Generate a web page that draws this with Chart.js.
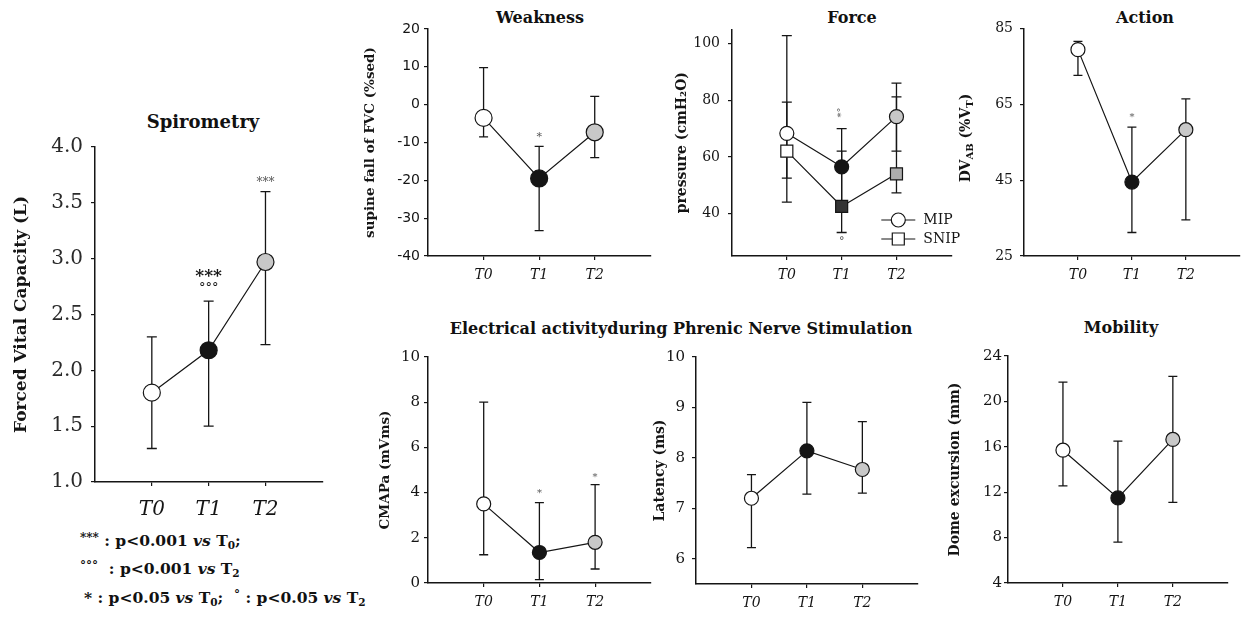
<!DOCTYPE html>
<html><head><meta charset="utf-8">
<script src="https://cdn.jsdelivr.net/npm/chart.js@4.4.1/dist/chart.umd.min.js"></script>
<style>
html,body{margin:0;padding:0;background:#fff;}
#fig{position:relative;width:1248px;height:618px;overflow:hidden;background:#fff;font-family:"DejaVu Serif",serif;color:#111;}
#fig canvas{position:absolute;}
.ttl{position:absolute;font-weight:bold;white-space:nowrap;transform:translate(-50%,-50%);line-height:1;}
.note{position:absolute;white-space:nowrap;font-weight:bold;font-size:15.5px;transform:translateY(-50%);line-height:1;}
.note i{font-weight:bold;}
.note sub{font-size:68%;vertical-align:-3px;line-height:0;}
.sm{font-size:12px;vertical-align:4px;}
</style></head>
<body><div id="fig">
<div class="ttl" style="left:203px;top:122px;font-size:18px">Spirometry</div>
<div class="ttl" style="left:540px;top:18px;font-size:16px">Weakness</div>
<div class="ttl" style="left:852px;top:18px;font-size:16px">Force</div>
<div class="ttl" style="left:1145px;top:18px;font-size:16px">Action</div>
<div class="ttl" style="left:681px;top:329px;font-size:16px">Electrical activityduring Phrenic Nerve Stimulation</div>
<div class="ttl" style="left:1121px;top:328px;font-size:16px">Mobility</div>
<div class="note" style="left:80px;top:540px"><span class="sm">***</span> : p&lt;0.001 <i>vs</i> T<sub>0</sub>;</div>
<div class="note" style="left:80px;top:568px"><span class="sm">°°°</span>&nbsp; : p&lt;0.001 <i>vs</i> T<sub>2</sub></div>
<div class="note" style="left:84px;top:597px">* : p&lt;0.05 <i>vs</i> T<sub>0</sub>;&nbsp; <span class="sm">°</span> : p&lt;0.05 <i>vs</i> T<sub>2</sub></div>
</div>
<script>
// ---------- data ----------
const timepoints = ['T0', 'T1', 'T2'];

// Spirometry – Forced Vital Capacity (L)
const fvcMean = [1.80, 2.18, 2.97];
const fvcLow  = [1.30, 1.50, 2.23];
const fvcHigh = [2.30, 2.62, 3.60];
const fvcTicks = [1.0, 1.5, 2.0, 2.5, 3.0, 3.5, 4.0];

// Weakness – supine fall of FVC (%sed)
const fallMean = [-3.5, -19.5, -7.3];
const fallLow  = [-8.5, -33.3, -14.0];
const fallHigh = [9.8, -11.0, 2.2];
const fallTicks = [-40, -30, -20, -10, 0, 10, 20];

// Force – pressure (cmH2O)
const mipMean  = [68.3, 56.5, 74.2];
const mipLow   = [52.5, 43.5, 62.0];
const mipHigh  = [102.8, 70.0, 86.0];
const snipMean = [62.0, 42.5, 54.0];
const snipLow  = [44.0, 33.3, 47.3];
const snipHigh = [79.3, 62.0, 81.2];
const pressureTicks = [40, 60, 80, 100];

// Action – DVAB (%VT)
const dvabMean = [79.4, 44.5, 58.3];
const dvabLow  = [72.6, 31.2, 34.5];
const dvabHigh = [81.6, 59.0, 66.4];
const dvabTicks = [25, 45, 65, 85];

// Electrical activity – CMAPa (mVms)
const cmapMean = [3.5, 1.35, 1.8];
const cmapLow  = [1.25, 0.15, 0.62];
const cmapHigh = [8.0, 3.56, 4.35];
const cmapTicks = [0, 2, 4, 6, 8, 10];

// Electrical activity – Latency (ms)
const latMean = [7.2, 8.14, 7.77];
const latLow  = [6.22, 7.28, 7.30];
const latHigh = [7.67, 9.10, 8.72];
const latTicks = [6, 7, 8, 9, 10];

// Mobility – Dome excursion (mm)
const domeMean = [15.7, 11.5, 16.65];
const domeLow  = [12.55, 7.6, 11.1];
const domeHigh = [21.7, 16.5, 22.2];
const domeTicks = [4, 8, 12, 16, 20, 24];

// ---------- styles ----------
const INK = '#151515';
const circleFill = ['#ffffff', '#151515', '#c8c8c8'];
const squareFill = ['#ffffff', '#333333', '#adadad'];

// ---------- plugins ----------
const errorBars = {
  id: 'errorBars',
  beforeDatasetsDraw(chart, args, opts) {
    const ctx = chart.ctx, xs = chart.scales.x, ys = chart.scales.y;
    ctx.save();
    ctx.strokeStyle = INK;
    ctx.lineWidth = opts.width || 1.3;
    const cap = opts.cap || 5;
    chart.data.datasets.forEach(ds => {
      ds.data.forEach((p, i) => {
        const x = xs.getPixelForValue(p.x);
        const yl = ys.getPixelForValue(ds.low[i]);
        const yh = ys.getPixelForValue(ds.high[i]);
        ctx.beginPath();
        ctx.moveTo(x, yl); ctx.lineTo(x, yh);
        ctx.moveTo(x - cap, yl); ctx.lineTo(x + cap, yl);
        ctx.moveTo(x - cap, yh); ctx.lineTo(x + cap, yh);
        ctx.stroke();
      });
    });
    ctx.restore();
  }
};

const sigMarks = {
  id: 'sigMarks',
  afterDatasetsDraw(chart, args, opts) {
    const marks = opts.marks || [];
    const ctx = chart.ctx, xs = chart.scales.x, ys = chart.scales.y;
    marks.forEach(m => {
      const ds = chart.data.datasets[m.ds || 0];
      const v = m.anchor === 'low' ? ds.low[m.i] : ds.high[m.i];
      const x = xs.getPixelForValue(m.i);
      const y = ys.getPixelForValue(v) + (m.anchor === 'low' ? m.dy : -m.dy);
      ctx.save();
      ctx.fillStyle = m.color || INK;
      ctx.font = (m.bold ? 'bold ' : '') + m.size + 'px "DejaVu Serif"';
      ctx.textAlign = 'center';
      ctx.textBaseline = 'middle';
      ctx.translate(x, y);
      if (m.rotate) ctx.rotate(-Math.PI / 2);
      ctx.fillText(m.text, 0, 0);
      ctx.restore();
    });
  }
};

const lineLegend = {
  id: 'lineLegend',
  afterDraw(chart, args, opts) {
    if (!opts.show) return;
    const ctx = chart.ctx, a = chart.chartArea;
    chart.data.datasets.forEach((ds, k) => {
      const y = a.bottom - opts.bottomGap + k * opts.rowGap;
      const x0 = a.right - opts.rightGap;
      const cx = x0 + opts.lineLen / 2;
      ctx.save();
      ctx.strokeStyle = INK; ctx.lineWidth = 1.2;
      ctx.beginPath(); ctx.moveTo(x0, y); ctx.lineTo(x0 + opts.lineLen, y); ctx.stroke();
      ctx.fillStyle = '#fff';
      ctx.beginPath();
      if (ds.pointStyle === 'rect') {
        const s = ds.pointRadius * Math.SQRT1_2;
        ctx.rect(cx - s, y - s, 2 * s, 2 * s);
      } else {
        ctx.arc(cx, y, ds.pointRadius, 0, Math.PI * 2);
      }
      ctx.fill(); ctx.stroke();
      ctx.fillStyle = INK;
      ctx.font = '14px "DejaVu Serif"';
      ctx.textAlign = 'left'; ctx.textBaseline = 'middle';
      ctx.fillText(ds.label, x0 + opts.lineLen + 8, y);
      ctx.restore();
    });
  }
};

const richYTitle = {
  id: 'richYTitle',
  afterDraw(chart, args, opts) {
    if (!opts.parts) return;
    const ctx = chart.ctx;
    ctx.save();
    ctx.fillStyle = INK;
    ctx.textBaseline = 'middle';
    let total = 0;
    opts.parts.forEach(p => {
      ctx.font = 'bold ' + (p.sub ? opts.subSize : opts.size) + 'px "DejaVu Serif"';
      p.w = ctx.measureText(p.t).width; total += p.w;
    });
    ctx.translate(opts.x, opts.y);
    ctx.rotate(-Math.PI / 2);
    let cx = -total / 2;
    opts.parts.forEach(p => {
      ctx.font = 'bold ' + (p.sub ? opts.subSize : opts.size) + 'px "DejaVu Serif"';
      ctx.fillText(p.t, cx, p.sub ? 4 : 0);
      cx += p.w;
    });
    ctx.restore();
  }
};

// ---------- panel builder ----------
const fig = document.getElementById('fig');
function panel(g) {
  const L = g.L, T = 15, R = g.R, B = g.B;
  const w = g.ar - g.ax + L + R, h = g.ab - g.at + T + B;
  const c = document.createElement('canvas');
  c.width = w; c.height = h;
  c.style.width = w + 'px'; c.style.height = h + 'px';
  c.style.left = (g.ax - L) + 'px'; c.style.top = (g.at - T) + 'px';
  fig.appendChild(c);
  const yTitle = g.yTitle ? {
    display: true, text: g.yTitle, color: INK,
    font: {family: 'DejaVu Serif', weight: 'bold', size: g.yTitleSize, lineHeight: 1.2},
    padding: {top: Math.max(0, g.yTitleX - (g.ax - L) - 0.6 * g.yTitleSize), bottom: 0}
  } : {display: false};
  new Chart(c, {
    type: 'line',
    data: {
      datasets: g.series.map(s => ({
        label: s.label,
        data: s.mean.map((v, i) => ({x: i, y: v})),
        low: s.low, high: s.high,
        borderColor: INK, borderWidth: 1.2, tension: 0, fill: false, clip: false,
        pointStyle: s.style || 'circle',
        pointRadius: s.r, pointHoverRadius: s.r,
        pointBackgroundColor: s.fill, pointBorderColor: INK, pointBorderWidth: 1.2
      }))
    },
    options: {
      responsive: false, animation: false, devicePixelRatio: 1, events: [],
      layout: {padding: {left: 0, top: T, right: R, bottom: 0}},
      plugins: {
        legend: {display: false}, tooltip: {enabled: false}, title: {display: false},
        errorBars: {cap: g.cap, width: 1.3},
        sigMarks: {marks: g.marks || []},
        lineLegend: g.legend || {show: false},
        richYTitle: g.richTitle || {}
      },
      scales: {
        x: {
          type: 'linear', min: -1, max: 3,
          afterBuildTicks: s => { s.ticks = timepoints.map((t, i) => ({value: i})); },
          afterFit: s => { s.height = B; },
          ticks: {
            callback: v => timepoints[v], color: INK, padding: g.xPad, maxRotation: 0, autoSkip: false,
            font: {family: 'DejaVu Serif', style: 'italic', size: g.xSize}
          },
          grid: {drawOnChartArea: false, drawTicks: true, tickLength: 4, color: INK, lineWidth: 1.2},
          border: {display: true, color: INK, width: 1.5}
        },
        y: {
          type: 'linear', min: g.min, max: g.max,
          afterBuildTicks: s => { s.ticks = g.ticks.map(v => ({value: v})); },
          afterFit: s => { s.width = L; },
          ticks: {
            callback: g.fmt || (v => String(v)), color: g.tickColor || INK, padding: g.yPad, autoSkip: false,
            font: {family: g.tickFamily || 'DejaVu Serif', size: g.ySize}
          },
          grid: {drawOnChartArea: false, drawTicks: true, tickLength: 4, color: INK, lineWidth: 1.2},
          border: {display: true, color: INK, width: 1.5},
          title: yTitle
        }
      }
    },
    plugins: [errorBars, sigMarks, lineLegend, richYTitle]
  });
}

// Spirometry
panel({
  ax: 95, ar: 327, at: 142, ab: 482, L: 90, R: 5, B: 46,
  min: 1, max: 4, ticks: fvcTicks, fmt: v => v.toFixed(1), ySize: 20, yPad: 8, tickColor: '#2a2a2a',
  xSize: 20, xPad: 12, cap: 5,
  yTitle: 'Forced Vital Capacity (L)', yTitleSize: 17, yTitleX: 22,
  series: [{label: 'FVC', mean: fvcMean, low: fvcLow, high: fvcHigh, fill: circleFill, r: 8.5}],
  marks: [
    {i: 1, text: '***', dy: 25, size: 17, bold: true},
    {i: 1, text: '°°°', dy: 12, size: 13},
    {i: 2, text: '***', dy: 9, size: 12, color: '#555'}
  ]
});

// Weakness
panel({
  ax: 428, ar: 655, at: 29, ab: 256, L: 72, R: 5, B: 40,
  min: -40, max: 20, ticks: fallTicks, ySize: 14, yPad: 4, tickFamily: 'DejaVu Sans',
  xSize: 14, xPad: 7, cap: 4.5,
  yTitle: 'supine fall of FVC (%sed)', yTitleSize: 13.5, yTitleX: 370,
  series: [{label: 'Supine fall', mean: fallMean, low: fallLow, high: fallHigh, fill: circleFill, r: 8.5}],
  marks: [{i: 1, text: '*', dy: 9, size: 11, color: '#555'}]
});

// Force
panel({
  ax: 732, ar: 958, at: 28, ab: 256, L: 66, R: 3, B: 40,
  min: 25, max: 105, ticks: pressureTicks, ySize: 14, yPad: 8,
  xSize: 14, xPad: 7, cap: 5,
  yTitle: 'pressure (cmH\u2082O)', yTitleSize: 14, yTitleX: 682,
  series: [
    {label: 'MIP', mean: mipMean, low: mipLow, high: mipHigh, fill: circleFill, r: 7},
    {label: 'SNIP', mean: snipMean, low: snipLow, high: snipHigh, fill: squareFill, r: 8.5, style: 'rect'}
  ],
  marks: [
    {i: 1, text: '*\u00b0', dy: 16, size: 10, rotate: true, color: '#555'},
    {i: 1, ds: 1, anchor: 'low', text: '\u00b0', dy: 10, size: 11, color: '#555'}
  ],
  legend: {show: true, rightGap: 70, lineLen: 34, bottomGap: 36, rowGap: 19}
});

// Action
panel({
  ax: 1024, ar: 1247, at: 28, ab: 256, L: 66, R: 1, B: 40,
  min: 25, max: 85, ticks: dvabTicks, ySize: 14, yPad: 7,
  xSize: 14, xPad: 7, cap: 4.5,
  richTitle: {x: 8, y: 125, size: 14, subSize: 10,
    parts: [{t: 'DV'}, {t: 'AB', sub: true}, {t: ' (%V'}, {t: 'T', sub: true}, {t: ')'}]},
  series: [{label: 'DVAB', mean: dvabMean, low: dvabLow, high: dvabHigh, fill: circleFill, r: 7}],
  marks: [{i: 1, text: '*', dy: 10, size: 10, color: '#555'}]
});

// CMAPa
panel({
  ax: 428, ar: 656, at: 357, ab: 583, L: 56, R: 3, B: 38,
  min: 0, max: 10, ticks: cmapTicks, ySize: 15, yPad: 4,
  xSize: 14, xPad: 7, cap: 4.5,
  yTitle: 'CMAPa (mVms)', yTitleSize: 13.5, yTitleX: 385,
  series: [{label: 'CMAPa', mean: cmapMean, low: cmapLow, high: cmapHigh, fill: circleFill, r: 7}],
  marks: [
    {i: 1, text: '*', dy: 9, size: 10, color: '#555'},
    {i: 2, text: '*', dy: 7, size: 10, color: '#555'}
  ]
});

// Latency
panel({
  ax: 696, ar: 923, at: 356, ab: 584, L: 48, R: 3, B: 38,
  min: 5.5, max: 10, ticks: latTicks, ySize: 15, yPad: 7,
  xSize: 14, xPad: 7, cap: 4.5,
  yTitle: 'Latency (ms)', yTitleSize: 14, yTitleX: 660,
  series: [{label: 'Latency', mean: latMean, low: latLow, high: latHigh, fill: circleFill, r: 7}]
});

// Mobility
panel({
  ax: 1008, ar: 1233, at: 356, ab: 583, L: 62, R: 3, B: 38,
  min: 4, max: 24, ticks: domeTicks, ySize: 15, yPad: 2,
  xSize: 14, xPad: 7, cap: 4.5,
  yTitle: 'Dome excursion (mm)', yTitleSize: 14, yTitleX: 955,
  series: [{label: 'Dome excursion', mean: domeMean, low: domeLow, high: domeHigh, fill: circleFill, r: 7}]
});
</script>
</body></html>
